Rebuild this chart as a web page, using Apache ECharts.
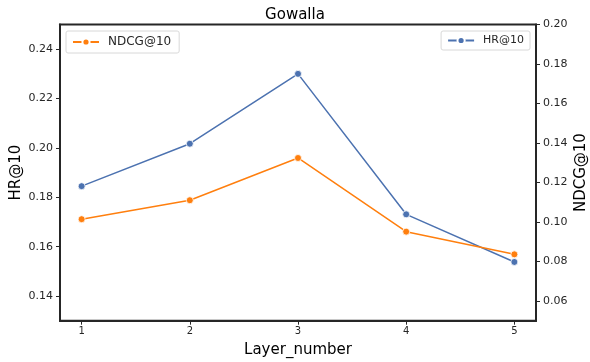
<!DOCTYPE html>
<html><head><meta charset="utf-8">
<script src="https://cdn.jsdelivr.net/npm/echarts@6/dist/echarts.min.js"></script>
<style>html,body{margin:0;padding:0;background:#fff}#c{width:590px;height:362px}</style>
</head><body><div id="c"></div>
<script>
var layers = [1, 2, 3, 4, 5];
var hr10 = [0.1845, 0.2017, 0.2300, 0.1731, 0.1538];
var ndcg10 = [0.1014, 0.1110, 0.1324, 0.0951, 0.0836];
var leftTicks = [0.14, 0.16, 0.18, 0.20, 0.22, 0.24];
var rightTicks = [0.06, 0.08, 0.10, 0.12, 0.14, 0.16, 0.18, 0.20];

var FONT = 'DejaVu Sans';
var TXT = '#262626';
var chart = echarts.init(document.getElementById('c'), null, {renderer: 'canvas'});
function pairs(xs, ys){ return xs.map(function(x,i){ return [x, ys[i]]; }); }
var axisLineStyle = {color: TXT, width: 2};
chart.setOption({
  animation: false,
  textStyle: {fontFamily: FONT},
  title: {text: 'Gowalla', left: 'center', top: 3,
    textStyle: {fontFamily: FONT, fontSize: 15, fontWeight: 'normal', color: '#000'}},
  grid: {left: 60, right: 54, top: 24.5, bottom: 41.3, outerBoundsMode: 'none', containLabel: false,
    show: true, borderColor: TXT, borderWidth: 2, backgroundColor: 'transparent'},
  legend: [
    {data: ['NDCG@10'], left: 66, top: 31, orient: 'vertical', itemWidth: 26, itemHeight: 9, padding: [5, 8, 5, 6],
      borderColor: '#d8d8d8', borderWidth: 1, borderRadius: 2, itemGap: 0,
      textStyle: {fontFamily: FONT, fontSize: 12, color: TXT, padding: [0, 0, 0, 4]}},
    {data: ['HR@10'], right: 60, top: 31, orient: 'vertical', itemWidth: 26, itemHeight: 9, padding: [4, 6, 4, 6],
      borderColor: '#d8d8d8', borderWidth: 1, borderRadius: 2, itemGap: 0,
      textStyle: {fontFamily: FONT, fontSize: 11, color: TXT, padding: [0, 0, 0, 4]}}
  ],
  xAxis: {type: 'value', min: 0.8, max: 5.2,
    name: 'Layer_number', nameLocation: 'middle', nameGap: 22, nameMoveOverlap: false,
    nameTextStyle: {fontFamily: FONT, fontSize: 15, color: '#000'},
    axisLine: {show: true, lineStyle: axisLineStyle},
    axisTick: {show: true, length: 4, lineStyle: {color: TXT, width: 1}, customValues: layers},
    axisLabel: {fontFamily: FONT, fontSize: 10, color: TXT, margin: 6, customValues: layers},
    splitLine: {show: false}},
  yAxis: [
    {type: 'value', min: 0.13, max: 0.25, position: 'left',
      name: 'HR@10', nameLocation: 'middle', nameGap: 36, nameRotate: 90, nameMoveOverlap: false,
      nameTextStyle: {fontFamily: FONT, fontSize: 15, color: '#000'},
      axisLine: {show: true, lineStyle: axisLineStyle},
      axisTick: {show: true, length: 4, lineStyle: {color: TXT, width: 1}, customValues: leftTicks},
      axisLabel: {fontFamily: FONT, fontSize: 11, color: TXT, margin: 7, customValues: leftTicks,
        formatter: function(v){ return v.toFixed(2); }},
      splitLine: {show: false}},
    {type: 'value', min: 0.05, max: 0.20, position: 'right',
      name: 'NDCG@10', nameLocation: 'middle', nameGap: 38, nameRotate: 90, nameMoveOverlap: false,
      nameTextStyle: {fontFamily: FONT, fontSize: 15, color: '#000'},
      axisLine: {show: true, lineStyle: axisLineStyle},
      axisTick: {show: true, length: 4, lineStyle: {color: TXT, width: 1}, customValues: rightTicks},
      axisLabel: {fontFamily: FONT, fontSize: 11, color: TXT, margin: 7, customValues: rightTicks,
        formatter: function(v){ return v.toFixed(2); }},
      splitLine: {show: false}}
  ],
  series: [
    {name: 'HR@10', type: 'line', yAxisIndex: 0, data: pairs(layers, hr10),
      symbol: 'circle', symbolSize: 7, color: '#4c72b0',
      lineStyle: {width: 1.5, color: '#4c72b0'},
      itemStyle: {color: '#4c72b0', borderColor: '#fff', borderWidth: 0.8}},
    {name: 'NDCG@10', type: 'line', yAxisIndex: 1, data: pairs(layers, ndcg10),
      symbol: 'circle', symbolSize: 7, color: '#ff7f0e',
      lineStyle: {width: 1.5, color: '#ff7f0e'},
      itemStyle: {color: '#ff7f0e', borderColor: '#fff', borderWidth: 0.8}}
  ]
});
</script></body></html>
